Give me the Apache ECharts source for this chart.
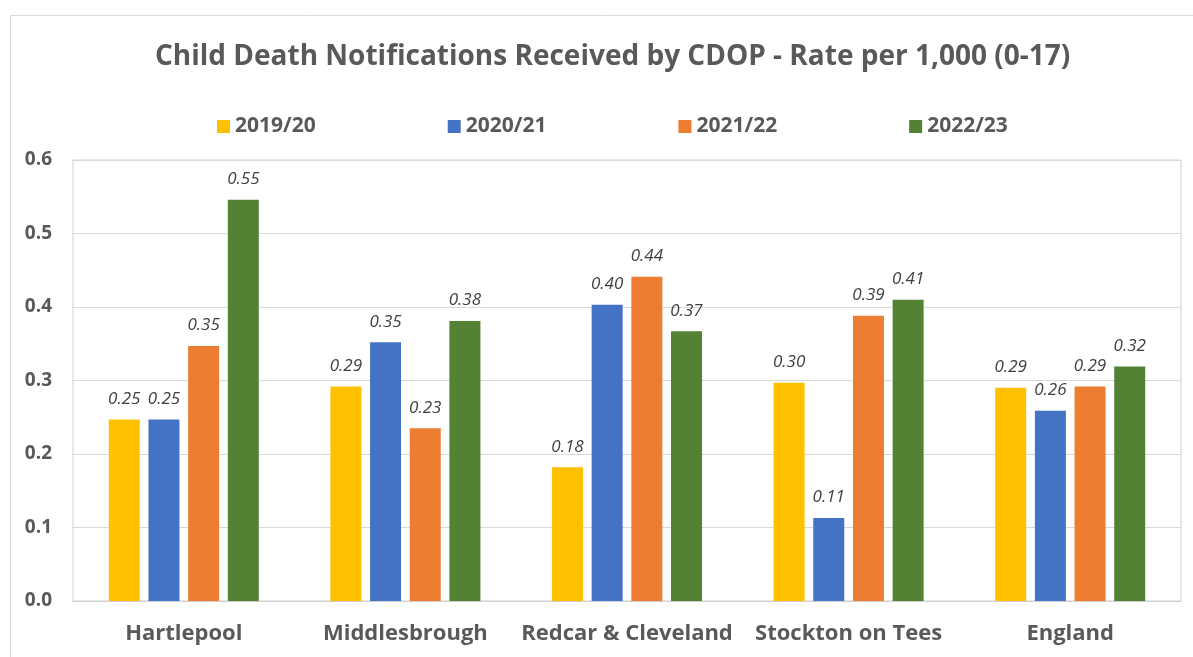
<!DOCTYPE html>
<html>
<head>
<meta charset="utf-8">
<script src="https://cdn.jsdelivr.net/npm/echarts@6/dist/echarts.min.js"></script>
<style>
  html, body { margin: 0; padding: 0; background: #fff; }
  #chart { width: 1193px; height: 657px; }
</style>
</head>
<body>
<div id="chart"></div>
<script>
const areas = ['Hartlepool', 'Middlesbrough', 'Redcar & Cleveland', 'Stockton on Tees', 'England'];
const years = ['2019/20', '2020/21', '2021/22', '2022/23'];
const colors = ['#FFC000', '#4472C4', '#ED7D31', '#548235'];

// rate per 1,000 children aged 0-17, one array per year
const rate1920 = [0.247, 0.292, 0.182, 0.297, 0.290];
const rate2021 = [0.247, 0.352, 0.403, 0.113, 0.259];
const rate2122 = [0.347, 0.235, 0.441, 0.388, 0.292];
const rate2223 = [0.546, 0.381, 0.367, 0.410, 0.319];
const yTicks = [0, 0.1, 0.2, 0.3, 0.4, 0.5, 0.6];

const font = '"Open Sans", Lato, sans-serif';
const grey = '#595959';

const chart = echarts.init(document.getElementById('chart'));
chart.setOption({
  animation: false,
  textStyle: { fontFamily: font },
  title: {
    text: 'Child Death Notifications Received by CDOP - Rate per 1,000 (0-17)',
    left: 150,
    top: 38,
    textStyle: { fontSize: 28, fontWeight: 'bold', color: grey, fontFamily: font }
  },
  legend: {
    data: years,
    top: 111,
    left: 212,
    itemWidth: 13,
    itemHeight: 13,
    itemGap: 132,
    icon: 'rect',
    textStyle: { fontSize: 21, fontWeight: 'bold', color: grey, fontFamily: font }
  },
  graphic: [{
    type: 'rect',
    shape: { x: 10.5, y: 15.5, width: 1200, height: 700 },
    style: { fill: 'none', stroke: '#d9d9d9', lineWidth: 1 },
    silent: true
  }],
  grid: { left: 73, right: 12, top: 160, bottom: 56, show: true, borderColor: '#d0d0d0', borderWidth: 1 },
  xAxis: {
    type: 'category',
    data: areas,
    axisTick: { show: false },
    axisLine: { lineStyle: { color: '#d0d0d0' } },
    axisLabel: { interval: 0, fontSize: 22, fontWeight: 'bold', color: grey, margin: 22, fontFamily: font }
  },
  yAxis: {
    type: 'value',
    min: 0,
    max: 0.6,
    interval: 0.1,
    splitLine: { lineStyle: { color: '#d9d9d9' } },
    axisLabel: {
      fontSize: 19, fontWeight: 'bold', color: grey, margin: 21, fontFamily: font,
      formatter: v => yTicks.includes(Math.round(v * 10) / 10) ? v.toFixed(1) : ''
    }
  },
  series: [rate1920, rate2021, rate2122, rate2223].map((d, i) => ({
    name: years[i],
    type: 'bar',
    data: d,
    barWidth: 31,
    barGap: '28%',
    itemStyle: { color: colors[i] },
    label: {
      show: true,
      position: 'top',
      distance: 12,
      fontSize: 17,
      fontStyle: 'italic',
      color: '#404040',
      fontFamily: font,
      formatter: p => p.value.toFixed(2)
    }
  }))
});
</script>
</body>
</html>
